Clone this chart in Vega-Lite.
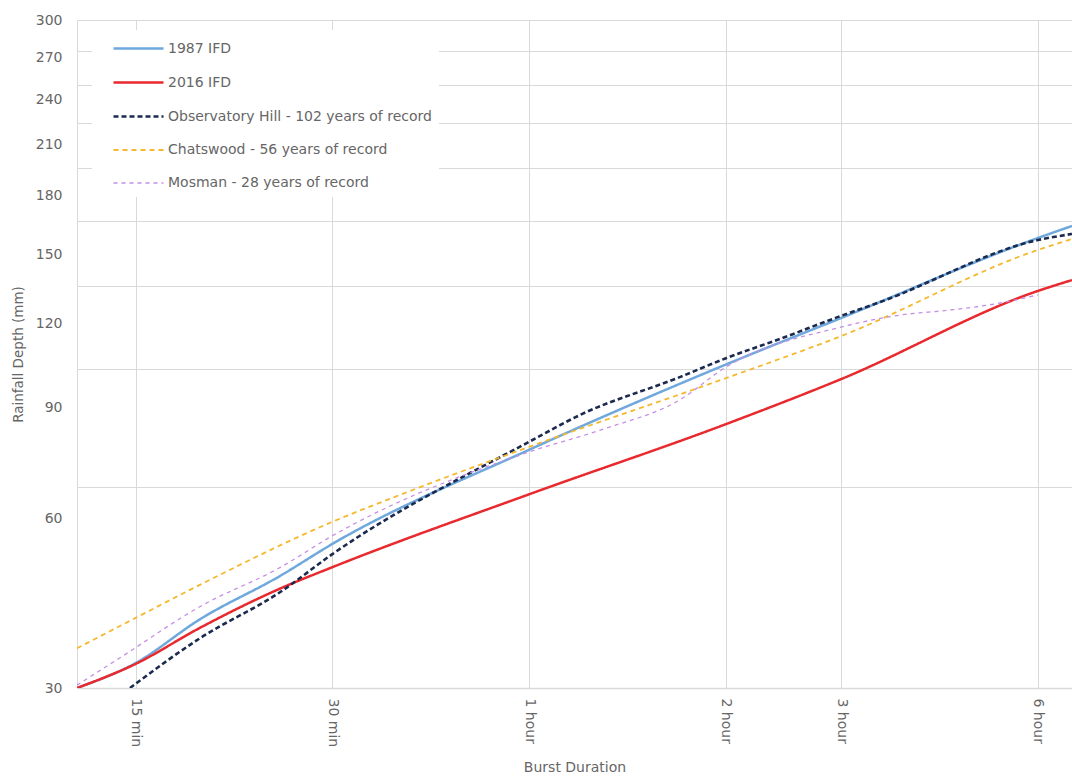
{
  "$schema": "https://vega.github.io/schema/vega-lite/v6.json",
  "width": 995,
  "height": 668,
  "autosize": {"type": "none"},
  "padding": {"left": 77, "top": 20, "right": 0, "bottom": 92},
  "background": "white",
  "config": {
    "view": {"stroke": null},
    "font": "DejaVu Sans",
    "axis": {"labelFont": "DejaVu Sans", "titleFont": "DejaVu Sans", "labelColor": "#666666", "titleColor": "#666666", "titleFontWeight": "normal", "labelFontSize": 14, "titleFontSize": 13.5}
  },
  "data": {
    "values": [
      {"series": "1987 IFD", "duration_min": 12.2, "depth_mm": 30},
      {"series": "1987 IFD", "duration_min": 15, "depth_mm": 32.7},
      {"series": "1987 IFD", "duration_min": 18.8, "depth_mm": 38.0},
      {"series": "1987 IFD", "duration_min": 25, "depth_mm": 44.2},
      {"series": "1987 IFD", "duration_min": 30, "depth_mm": 49.3},
      {"series": "1987 IFD", "duration_min": 60, "depth_mm": 68.2},
      {"series": "1987 IFD", "duration_min": 120, "depth_mm": 91.5},
      {"series": "1987 IFD", "duration_min": 180, "depth_mm": 107.4},
      {"series": "1987 IFD", "duration_min": 360, "depth_mm": 141.5},
      {"series": "1987 IFD", "duration_min": 406, "depth_mm": 147.5},

      {"series": "2016 IFD", "duration_min": 12.2, "depth_mm": 30},
      {"series": "2016 IFD", "duration_min": 15, "depth_mm": 32.6},
      {"series": "2016 IFD", "duration_min": 18.8, "depth_mm": 36.9},
      {"series": "2016 IFD", "duration_min": 25, "depth_mm": 42.3},
      {"series": "2016 IFD", "duration_min": 30, "depth_mm": 45.5},
      {"series": "2016 IFD", "duration_min": 60, "depth_mm": 58.5},
      {"series": "2016 IFD", "duration_min": 120, "depth_mm": 74.5},
      {"series": "2016 IFD", "duration_min": 180, "depth_mm": 87.0},
      {"series": "2016 IFD", "duration_min": 360, "depth_mm": 117.9},
      {"series": "2016 IFD", "duration_min": 406, "depth_mm": 122.4},

      {"series": "Observatory Hill - 102 years of record", "duration_min": 14.7, "depth_mm": 30},
      {"series": "Observatory Hill - 102 years of record", "duration_min": 18.8, "depth_mm": 35.6},
      {"series": "Observatory Hill - 102 years of record", "duration_min": 25, "depth_mm": 41.8},
      {"series": "Observatory Hill - 102 years of record", "duration_min": 30, "depth_mm": 47.6},
      {"series": "Observatory Hill - 102 years of record", "duration_min": 60, "depth_mm": 70.1},
      {"series": "Observatory Hill - 102 years of record", "duration_min": 71.8, "depth_mm": 76.9},
      {"series": "Observatory Hill - 102 years of record", "duration_min": 102, "depth_mm": 87.6},
      {"series": "Observatory Hill - 102 years of record", "duration_min": 120, "depth_mm": 93.5},
      {"series": "Observatory Hill - 102 years of record", "duration_min": 145, "depth_mm": 99.9},
      {"series": "Observatory Hill - 102 years of record", "duration_min": 180, "depth_mm": 108.2},
      {"series": "Observatory Hill - 102 years of record", "duration_min": 206.7, "depth_mm": 113.5},
      {"series": "Observatory Hill - 102 years of record", "duration_min": 360, "depth_mm": 140.5},
      {"series": "Observatory Hill - 102 years of record", "duration_min": 406, "depth_mm": 143.5},

      {"series": "Chatswood - 56 years of record", "duration_min": 12.2, "depth_mm": 34.4},
      {"series": "Chatswood - 56 years of record", "duration_min": 15, "depth_mm": 38.2},
      {"series": "Chatswood - 56 years of record", "duration_min": 18.8, "depth_mm": 42.8},
      {"series": "Chatswood - 56 years of record", "duration_min": 30, "depth_mm": 53.2},
      {"series": "Chatswood - 56 years of record", "duration_min": 38.1, "depth_mm": 58.4},
      {"series": "Chatswood - 56 years of record", "duration_min": 60, "depth_mm": 68.9},
      {"series": "Chatswood - 56 years of record", "duration_min": 120, "depth_mm": 87.3},
      {"series": "Chatswood - 56 years of record", "duration_min": 180, "depth_mm": 100.9},
      {"series": "Chatswood - 56 years of record", "duration_min": 360, "depth_mm": 135.8},
      {"series": "Chatswood - 56 years of record", "duration_min": 406, "depth_mm": 141},

      {"series": "Mosman - 28 years of record", "duration_min": 12.2, "depth_mm": 30.3},
      {"series": "Mosman - 28 years of record", "duration_min": 14.2, "depth_mm": 33.3},
      {"series": "Mosman - 28 years of record", "duration_min": 18.8, "depth_mm": 39.7},
      {"series": "Mosman - 28 years of record", "duration_min": 25, "depth_mm": 45.5},
      {"series": "Mosman - 28 years of record", "duration_min": 30, "depth_mm": 50.7},
      {"series": "Mosman - 28 years of record", "duration_min": 60, "depth_mm": 67.7},
      {"series": "Mosman - 28 years of record", "duration_min": 77.1, "depth_mm": 73.0},
      {"series": "Mosman - 28 years of record", "duration_min": 102, "depth_mm": 81},
      {"series": "Mosman - 28 years of record", "duration_min": 120, "depth_mm": 90.7},
      {"series": "Mosman - 28 years of record", "duration_min": 180, "depth_mm": 104.1},
      {"series": "Mosman - 28 years of record", "duration_min": 221.7, "depth_mm": 108.5},
      {"series": "Mosman - 28 years of record", "duration_min": 264.5, "depth_mm": 110.4},
      {"series": "Mosman - 28 years of record", "duration_min": 315.4, "depth_mm": 113.1},
      {"series": "Mosman - 28 years of record", "duration_min": 360, "depth_mm": 116.3}
    ]
  },
  "encoding": {
    "x": {
      "field": "duration_min",
      "type": "quantitative",
      "scale": {"type": "log", "domain": [12.2, 406], "nice": false},
      "axis": {
        "values": [15, 30, 60, 120, 180, 360],
        "labelExpr": "datum.value < 60 ? datum.value + ' min' : (datum.value / 60) + ' hour'",
        "labelAngle": 90,
        "labelPadding": 10,
        "labelFlush": false,
        "labelOverlap": false,
        "grid": true,
        "gridColor": "#d9d9d9",
        "ticks": false,
        "domain": true,
        "domainColor": "#d9d9d9",
        "domainWidth": 1.5,
        "title": "Burst Duration",
        "titleFontSize": 14,
        "titlePadding": 14
      }
    }
  },
  "layer": [
    {
      "mark": {"type": "line", "interpolate": "monotone", "clip": true},
      "encoding": {
        "y": {
          "field": "depth_mm",
          "type": "quantitative",
          "scale": {"type": "log", "domain": [30, 300], "nice": false},
          "axis": {
            "values": [30, 60, 90, 120, 150, 180, 210, 240, 270, 300],
            "grid": true,
            "gridColor": "#d9d9d9",
            "labels": false,
            "ticks": false,
            "domain": true,
            "domainColor": "#d9d9d9",
            "title": null,
            "orient": "left"
          }
        },
        "color": {
          "field": "series",
          "type": "nominal",
          "scale": {
            "domain": ["1987 IFD", "2016 IFD", "Observatory Hill - 102 years of record", "Chatswood - 56 years of record", "Mosman - 28 years of record"],
            "range": ["#6FA8DC", "#E8292E", "#1B2A4E", "#F5B82E", "#C58FE3"]
          },
          "legend": {
            "title": null,
            "orient": "none",
            "legendX": 15,
            "legendY": 10,
            "fillColor": "white",
            "padding": 7,
            "symbolType": "M0.3,0H5.3",
            "symbolSize": 400,
            "labelOffset": 46,
            "rowPadding": 15,
            "labelFontSize": 14,
            "labelFont": "DejaVu Sans",
            "labelColor": "#666666",
            "labelLimit": 400
          }
        },
        "strokeDash": {
          "field": "series",
          "type": "nominal",
          "scale": {
            "domain": ["1987 IFD", "2016 IFD", "Observatory Hill - 102 years of record", "Chatswood - 56 years of record", "Mosman - 28 years of record"],
            "range": [[1, 0], [1, 0], [5, 3], [5, 4], [4, 4]]
          }
        },
        "strokeWidth": {
          "field": "series",
          "type": "nominal",
          "scale": {
            "type": "ordinal",
            "domain": ["1987 IFD", "2016 IFD", "Observatory Hill - 102 years of record", "Chatswood - 56 years of record", "Mosman - 28 years of record"],
            "range": [2.5, 2.5, 2.6, 1.8, 1.3]
          }
        }
      }
    },
    {
      "mark": {"type": "point", "opacity": 0},
      "encoding": {
        "y": {
          "field": "depth_mm",
          "type": "quantitative",
          "scale": {"type": "pow", "exponent": 0.2, "domain": [30, 300], "nice": false},
          "axis": {
            "values": [30, 60, 90, 120, 150, 180, 210, 240, 270, 300],
            "grid": false,
            "ticks": false,
            "domain": false,
            "labelPadding": 15,
            "title": "Rainfall Depth (mm)",
            "titlePadding": 10,
            "orient": "left"
          }
        }
      }
    }
  ],
  "resolve": {"scale": {"y": "independent"}}
}
